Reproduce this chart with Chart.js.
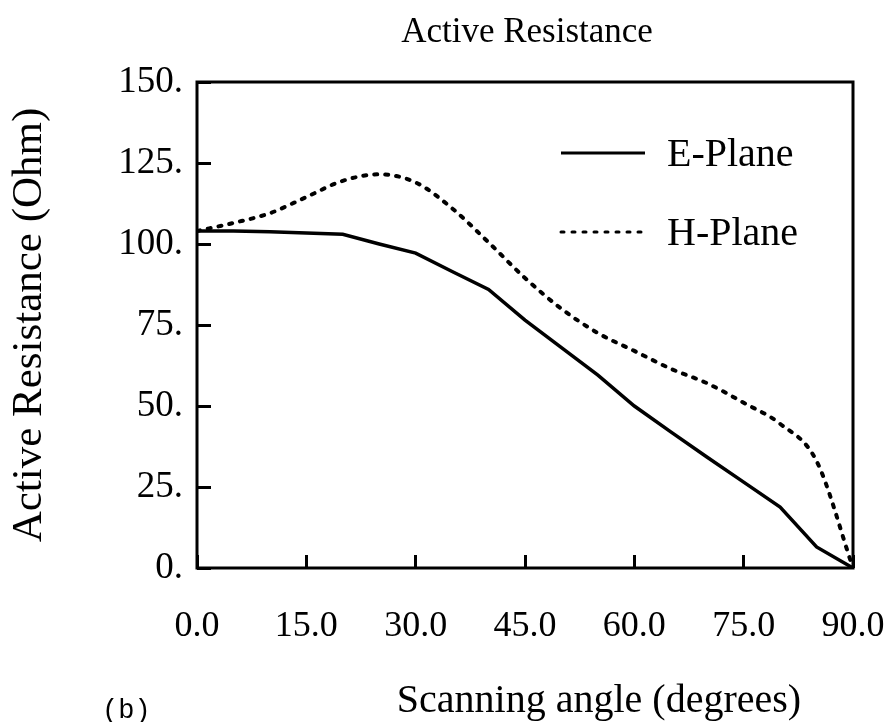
<!DOCTYPE html>
<html>
<head>
<meta charset="utf-8">
<script src="https://cdn.jsdelivr.net/npm/chart.js@4.4.1/dist/chart.umd.min.js"></script>
<style>
  html, body { margin: 0; padding: 0; background: #fff; }
  #wrap { width: 896px; height: 722px; position: relative; }
</style>
</head>
<body>
<div id="wrap"><canvas id="resistanceChart"></canvas></div>
<script>
// scanning angles (degrees)
const angles = [0, 5, 10, 15, 20, 25, 30, 35, 40, 45, 50, 55, 60, 65, 70, 75, 80, 85, 90];
// active resistance, Ohm
const ePlane = [104, 104, 103.8, 103.4, 103, 100, 97.2, 91.5, 86, 76.5, 68, 59.5, 50, 42, 34.2, 26.5, 18.8, 6.5, 0];
const hPlane = [104, 106.5, 109.5, 114.5, 119.5, 121.5, 119, 111, 100.5, 89.5, 80, 72.5, 67, 61.5, 57, 51, 44.5, 33, 0];

const seriesNames = ['E-Plane', 'H-Plane'];
const chartTitle = 'Active Resistance';
const xTitle = 'Scanning angle (degrees)';
const yTitle = 'Active Resistance (Ohm)';
const panelTag = '(b)';

const serif = '"Liberation Serif", "Times New Roman", serif';

function toPoints(ys) {
    return angles.map((a, i) => ({ x: a, y: ys[i] }));
}

// frame, titles and the inside legend
const decorations = {
    id: 'decorations',
    afterDraw(chart) {
        const ctx = chart.ctx;
        const area = chart.chartArea;
        ctx.save();

        ctx.strokeStyle = '#000';
        ctx.lineWidth = 3;
        ctx.strokeRect(area.left, area.top, area.right - area.left, area.bottom - area.top);

        ctx.fillStyle = '#000';
        ctx.textAlign = 'center';
        ctx.textBaseline = 'middle';

        ctx.font = '35px ' + serif;
        ctx.fillText(chartTitle, 527, 33);

        ctx.font = '40px ' + serif;
        ctx.fillText(xTitle, 599, 701);

        ctx.save();
        ctx.translate(30, 325);
        ctx.rotate(-Math.PI / 2);
        ctx.font = '43px ' + serif;
        ctx.fillText(yTitle, 0, 0);
        ctx.restore();

        ctx.textAlign = 'left';
        ctx.font = '27px "Liberation Mono", monospace';
        ctx.fillText(panelTag, 102, 711);

        // legend
        ctx.font = '40px ' + serif;
        const rows = [153, 232];
        chart.data.datasets.forEach((ds, i) => {
            ctx.beginPath();
            ctx.lineWidth = 3;
            ctx.lineCap = ds.borderCapStyle || 'butt';
            ctx.setLineDash(ds.borderDash || []);
            ctx.moveTo(561, rows[i]);
            ctx.lineTo(645, rows[i]);
            ctx.stroke();
            ctx.setLineDash([]);
            ctx.fillText(ds.label, 667, rows[i] + 2);
        });

        ctx.restore();
    }
};

const ctx = document.getElementById('resistanceChart').getContext('2d');
new Chart(ctx, {
    type: 'line',
    data: {
        datasets: [{
            label: seriesNames[0],
            data: toPoints(ePlane),
            borderColor: '#000',
            borderWidth: 3.5,
            pointRadius: 0,
            tension: 0,
            fill: false
        }, {
            label: seriesNames[1],
            data: toPoints(hPlane),
            borderColor: '#000',
            borderWidth: 4,
            borderDash: [3, 8],
            borderCapStyle: 'round',
            pointRadius: 0,
            cubicInterpolationMode: 'monotone',
            fill: false
        }]
    },
    options: {
        responsive: true,
        maintainAspectRatio: false,
        animation: false,
        layout: {
            autoPadding: false,
            padding: { top: 82, right: 43, left: 0, bottom: 0 }
        },
        plugins: {
            legend: { display: false },
            title: { display: false },
            tooltip: { enabled: false }
        },
        scales: {
            x: {
                type: 'linear',
                min: 0,
                max: 90,
                afterFit: s => {
                    s.height = 154;
                    s.paddingLeft = 0;
                    s.paddingRight = 0;
                },
                border: { display: false },
                grid: {
                    drawOnChartArea: false,
                    drawTicks: true,
                    tickLength: -13,
                    lineWidth: 3,
                    color: '#000'
                },
                ticks: {
                    stepSize: 15,
                    padding: 50,
                    color: '#000',
                    font: { family: serif, size: 36 },
                    maxRotation: 0,
                    callback: v => v.toFixed(1)
                }
            },
            y: {
                min: 0,
                max: 150,
                afterFit: s => {
                    s.width = 197;
                    s.paddingTop = 0;
                    s.paddingBottom = 0;
                },
                border: { display: false },
                grid: {
                    drawOnChartArea: false,
                    drawTicks: true,
                    tickLength: -14,
                    lineWidth: 3,
                    color: '#000'
                },
                ticks: {
                    stepSize: 25,
                    padding: 28,
                    color: '#000',
                    font: { family: serif, size: 37 },
                    callback: v => v + '.'
                }
            }
        }
    },
    plugins: [decorations]
});
</script>
</body>
</html>
